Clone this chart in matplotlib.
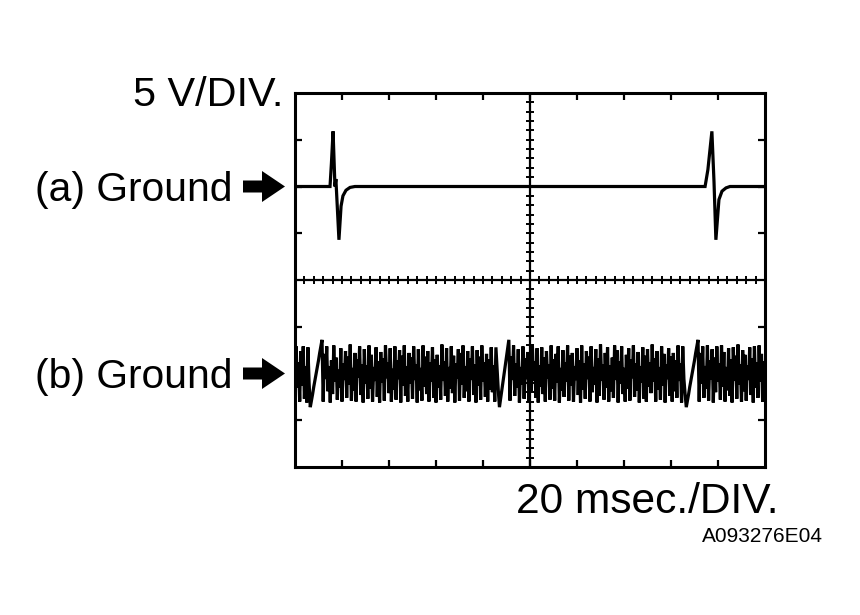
import numpy as np
import matplotlib
matplotlib.use("Agg")
import matplotlib.pyplot as plt
from matplotlib.patches import Polygon

plt.rcParams['font.family'] = ['Liberation Sans', 'DejaVu Sans']

FIG_W, FIG_H = 860, 615

# scope settings: 20 ms/div (10 div), 5 V/div (8 div)
time_span = 200
volt_span = 20
ground_a = 10
ground_b = -10

# channel (a): two ignition pulses, ms / volts above its ground
pulse_a_time = [0, 14.9, 15.5, 16.2, 17.0, 17.4, 18.7, 19.6, 20.4, 21.7, 23.4, 25.5,
                174.5, 175.7, 177.4, 178.3, 179.1, 180.4, 181.7, 183.4, 185.1, 200]
pulse_a_volt = [0, 0, 2.5, 5.9, 0.0, 0.8, -5.7, -2.1, -1.0, -0.4, -0.1, 0,
                0, 1.8, 5.9, 0.5, -5.7, -1.4, -0.5, -0.15, 0, 0]

# channel (b): noisy signal, one reading every 0.5 ms (0..200 ms)
noise_b_volt = [
    -0.5, 2.9, -1.5, 1.2, -3.0, 2.4, -1.3, 2.9, -2.7, 0.8, -3.1, 2.8, -1.0,
    -3.6, -2.9, -2.2, -1.4, -0.7, 0.0, 0.7, 1.4, 2.2, 2.9, 3.6,
    -3.0, 2.1, -0.6, 2.9, -1.9, 0.8, -3.1, 1.4, -2.2, 3.0,
    -0.9, 1.7, -2.8, 0.4, -1.5, 2.7, -3.0, 1.1, -0.7, 2.4,
    -2.6, 1.8, -1.2, 3.1, -2.9, 0.6, -1.8, 2.2, -3.0, 1.5,
    -0.4, 2.9, -2.3, 1.0, -3.1, 2.6, -1.1, 0.9, -2.7, 3.0,
    -1.6, 2.0, -3.0, 0.7, -0.8, 2.8, -2.5, 1.3, -3.1, 2.3,
    -1.0, 1.6, -2.9, 3.0, -0.5, 1.2, -2.1, 2.7, -3.0, 0.5,
    -1.7, 2.9, -2.8, 1.4, -0.6, 2.5, -3.1, 1.9, -1.3, 3.0,
    -2.4, 0.8, -3.0, 2.2, -1.1, 1.7, -2.7, 2.9, -0.7, 1.0,
    -3.1, 2.6, -1.8, 0.6, -2.9, 3.0, -1.4, 1.8, -2.2, 2.4,
    -3.0, 1.2, -0.9, 2.8, -2.6, 1.5, -3.1, 2.0, -1.5, 0.9,
    -2.8, 3.1, -0.8, 1.3, -2.4, 2.7, -3.0, 0.7, -1.6, 2.9,
    -2.1, 1.9, -3.1, 1.1, -0.5, 2.6, -2.9, 2.2, -1.2, 3.0,
    -2.6, 0.8, -1.9, 2.4, -3.0, 1.6, -0.7, 2.9, -2.3, 1.0,
    -3.1, 2.5, -1.3, 1.8, -2.8, 3.0, -0.9, 1.2, -2.5, 2.1,
    -3.0, 1.5, -1.7, 2.8, -2.0, 0.9, -3.0, 2.8, 0.4, -1.8,
    -3.6, -2.7, -1.8, -0.9, 0.0, 0.9, 1.8, 2.7, 3.6,
    -2.9, 1.8, -0.7, 3.0, -2.4, 1.1, -1.5, 2.6, -3.1, 0.7,
    -1.2, 2.9, -2.7, 1.6, -0.6, 2.3, -3.0, 2.0, -1.9, 3.1,
    -0.8, 1.3, -2.6, 2.7, -3.1, 0.9, -1.4, 2.8, -2.2, 1.7,
    -3.0, 2.4, -0.5, 1.0, -2.8, 3.0, -1.6, 1.5, -2.9, 2.1,
    -1.0, 2.9, -3.1, 0.6, -1.8, 2.5, -2.5, 1.2, -0.9, 3.0,
    -2.9, 1.9, -1.3, 2.2, -3.0, 0.8, -0.7, 2.7, -2.3, 1.4,
    -3.1, 3.0, -1.7, 1.1, -2.7, 2.4, -0.6, 1.8, -3.0, 2.9,
    -2.0, 0.7, -1.2, 2.6, -3.1, 1.6, -2.4, 3.1, -0.8, 1.0,
    -2.8, 2.2, -1.5, 2.8, -3.0, 0.9, -1.9, 1.7, -2.6, 3.0,
    -0.7, 2.5, -3.1, 1.3, -1.1, 2.9, -2.2, 0.6, -3.0, 2.0,
    -1.6, 2.7, -2.9, 1.5, -0.5, 3.0, -2.5, 1.1, -1.8, 2.3,
    -3.1, 0.8, -1.0, 2.8, -2.7, 1.9, -3.0, 2.6, -1.4, 1.2,
    -2.1, 3.1, -0.9, 1.6, -3.0, 2.4, -1.7, 0.7, -2.8, 2.9,
    -1.3, 2.1, -3.1, 1.0, -0.6, 2.7, -2.4, 1.8, -3.0, 2.2,
    -1.9, 1.4, -2.6, 3.0, -0.8, 1.1, -3.1, 2.9, -0.6, -2.2,
    -3.6, -2.9, -2.2, -1.4, -0.7, 0.0, 0.7, 1.4, 2.2, 2.9, 3.6,
    -3.0, 2.2, -1.1, 2.9, -2.6, 0.8, -1.6, 3.0, -2.9, 1.4,
    -0.6, 2.6, -3.1, 1.7, -2.0, 2.9, -0.9, 1.1, -2.8, 3.0,
    -1.4, 2.3, -3.0, 0.7, -1.8, 2.7, -2.4, 1.5, -3.1, 2.8,
    -0.8, 1.9, -2.7, 3.1, -1.2, 1.0, -3.0, 2.5, -1.9, 2.0,
    -2.9, 0.9, -0.7, 2.8, -2.3, 1.6, -3.1, 2.9, -1.5, 1.2,
    -2.6, 3.0, -0.9, 2.1, -3.0, 1.3, -1.7,
]
noise_b_time = np.arange(len(noise_b_volt)) * 0.5

volt_label = "5 V/DIV."
time_label = "20 msec./DIV."
ground_labels = ["(a) Ground", "(b) Ground"]
code_label = "A093276E04"


def fig_xy(x, y):
    """pixel position (top-left origin) -> figure fraction"""
    return x / FIG_W, 1 - y / FIG_H


fig = plt.figure(figsize=(FIG_W / 100, FIG_H / 100), dpi=100)
ax = fig.add_axes([295 / FIG_W, (FIG_H - 467) / FIG_H, 470 / FIG_W, 374 / FIG_H])
ax.set_xlim(0, time_span)
ax.set_ylim(-volt_span, volt_span)

for s in ax.spines.values():
    s.set_linewidth(2.2)

# graticule ticks on the frame
ax.set_xticks(np.arange(20, time_span, 20))
ax.set_yticks([-15, -10, -5, 5, 10, 15])
ax.tick_params(direction='in', length=5, width=1.6, top=True, right=True,
               labelbottom=False, labelleft=False)

# centre cross with small sub-division ticks
ax.axvline(time_span / 2, color='black', lw=1.6)
ax.axhline(0, color='black', lw=1.6)
sub_x = [t for t in np.arange(4, time_span, 4) if t != time_span / 2]
sub_y = [v for v in np.arange(-19, volt_span, 1) if v != 0]
ax.vlines(sub_x, -0.45, 0.45, color='black', lw=1.4)
ax.hlines(sub_y, 100 - 1.7, 100 + 1.7, color='black', lw=1.4)

# traces
ax.plot(pulse_a_time, np.array(pulse_a_volt) + ground_a, color='black', lw=2.3,
        solid_joinstyle='miter')
ax.plot(noise_b_time, np.array(noise_b_volt) + ground_b, color='black', lw=2.3,
        solid_joinstyle='miter')

# ground arrows, tip on the frame
for g in (ground_a, ground_b):
    disp = ax.transData.transform((0, g))
    yc = FIG_H - disp[1]
    pts = [(243, yc - 6), (262, yc - 6), (262, yc - 15.5), (285, yc),
           (262, yc + 15.5), (262, yc + 6), (243, yc + 6)]
    fig.add_artist(Polygon([fig_xy(*p) for p in pts], closed=True,
                           transform=fig.transFigure, fc='black', ec='none'))

# labels
fig.text(*fig_xy(283, 106), volt_label, ha='right', va='baseline', fontsize=29.8)
fig.text(*fig_xy(232, 201), ground_labels[0], ha='right', va='baseline', fontsize=29.3)
fig.text(*fig_xy(232, 388), ground_labels[1], ha='right', va='baseline', fontsize=29.3)
fig.text(*fig_xy(778, 513), time_label, ha='right', va='baseline', fontsize=30.6)
fig.text(*fig_xy(823, 542), code_label, ha='right', va='baseline', fontsize=15)

fig.savefig("out.png", dpi=100)
